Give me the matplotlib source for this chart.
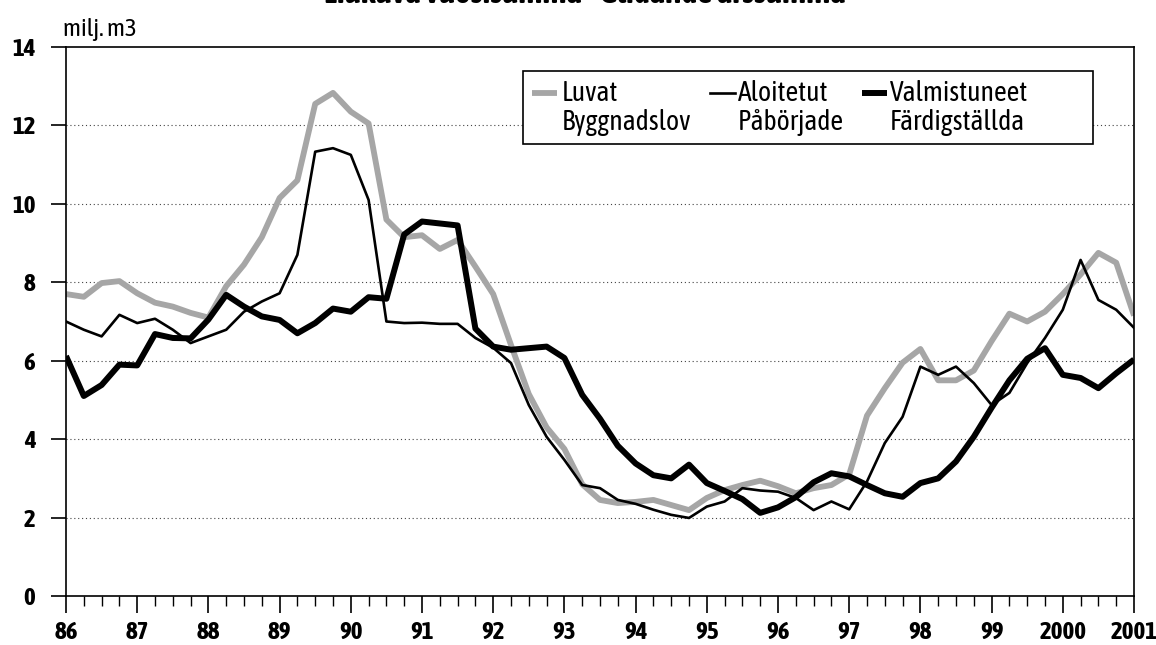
import numpy as np
import matplotlib
matplotlib.use("Agg")
import matplotlib.pyplot as plt
from matplotlib import font_manager as fm
from matplotlib.lines import Line2D
from matplotlib.patches import Rectangle

# a narrow sans face that also has a bold cut, DejaVu Sans Condensed otherwise
family = "DejaVu Sans"
for f in fm.fontManager.ttflist:
    fn = f.fname.split("/")[-1]
    if "CondensedBold" in fn.replace("-", "").replace("_", "") and "DejaVu" not in fn \
            and "Extra" not in fn and "Semi" not in fn and "Mono" not in fn \
            and "Serif" not in fn and "Italic" not in fn:
        family = f.name
        break
plt.rcParams["font.family"] = [family, "DejaVu Sans"]
plt.rcParams["font.stretch"] = "condensed"

# moving annual sums, one value per quarter 1986 - 2001 (milj. m3)
luvat = [7.7, 7.63, 7.98, 8.03, 7.72, 7.48, 7.38, 7.22, 7.1, 7.9,
         8.45, 9.15, 10.15, 10.6, 12.55, 12.83, 12.35, 12.05, 9.6, 9.15,
         9.2, 8.85, 9.08, 8.4, 7.7, 6.4, 5.15, 4.3, 3.75, 2.85,
         2.45, 2.37, 2.4, 2.45, 2.32, 2.19, 2.5, 2.7, 2.83, 2.94,
         2.8, 2.62, 2.75, 2.83, 3.1, 4.6, 5.3, 5.95, 6.3, 5.5,
         5.5, 5.75, 6.5, 7.2, 7.0, 7.25, 7.7, 8.2, 8.75, 8.5,
         7.15]
aloitetut = [7.0, 6.79, 6.62, 7.17, 6.96, 7.07, 6.79, 6.45, 6.62, 6.79,
             7.25, 7.51, 7.72, 8.7, 11.33, 11.42, 11.25, 10.1, 7.0, 6.96,
             6.97, 6.94, 6.94, 6.58, 6.33, 5.94, 4.87, 4.06, 3.47, 2.83,
             2.75, 2.45, 2.35, 2.2, 2.07, 1.99, 2.28, 2.41, 2.75, 2.69,
             2.66, 2.5, 2.19, 2.41, 2.21, 2.92, 3.9, 4.57, 5.85, 5.64,
             5.85, 5.43, 4.87, 5.18, 5.94, 6.58, 7.3, 8.57, 7.55, 7.3,
             6.84]
valmistuneet = [6.12, 5.1, 5.38, 5.9, 5.88, 6.68, 6.58, 6.57, 7.05, 7.68,
                7.38, 7.13, 7.04, 6.7, 6.96, 7.33, 7.25, 7.62, 7.58, 9.22,
                9.55, 9.5, 9.45, 6.82, 6.36, 6.28, 6.32, 6.36, 6.07, 5.13,
                4.52, 3.83, 3.38, 3.08, 3.0, 3.35, 2.88, 2.68, 2.47, 2.12,
                2.26, 2.52, 2.9, 3.13, 3.05, 2.83, 2.62, 2.53, 2.88, 3.0,
                3.43, 4.06, 4.8, 5.5, 6.05, 6.32, 5.64, 5.56, 5.3, 5.68,
                6.03]

years = list(range(1986, 2002))
year_labels = ["86", "87", "88", "89", "90", "91", "92", "93", "94", "95",
               "96", "97", "98", "99", "2000", "2001"]
names_fi = ["Luvat", "Aloitetut", "Valmistuneet"]
names_sv = ["Byggnadslov", "Påbörjade", "Färdigställda"]

quarters = 1986 + np.arange(len(luvat)) / 4

W, H = 1156, 645
L, R, T, B = 66, 1134, 47, 596


def ax_x(px):
    return (px - L) / (R - L)


def ax_y(py):
    return (B - py) / (B - T)


fig = plt.figure(figsize=(W / 100, H / 100), dpi=100)
ax = fig.add_axes([L / W, 1 - B / H, (R - L) / W, (B - T) / H])

styles = [dict(color="#a6a6a6", lw=4.2, solid_capstyle="butt"),
          dict(color="black", lw=1.9),
          dict(color="black", lw=4.3, solid_capstyle="butt")]
for series, st in zip([luvat, aloitetut, valmistuneet], styles):
    ax.plot(quarters, series, solid_joinstyle="round", **st)

ax.set_xlim(1986, 2001)
ax.set_ylim(0, 14)
ax.set_yticks(range(0, 15, 2))
ax.set_xticks(years)
ax.set_xticklabels(year_labels)
ax.set_xticks(quarters, minor=True)

for y in range(2, 14, 2):
    ax.axhline(y, color="#444444", lw=0.8, ls=(0, (1, 2.5)), zorder=0)

for s in ax.spines.values():
    s.set_linewidth(1.2)
ax.tick_params(axis="y", direction="out", length=11, width=1.2, pad=11, labelsize=18)
ax.tick_params(axis="x", which="major", direction="out", length=12, width=1.2, pad=6, labelsize=18)
ax.tick_params(axis="x", which="minor", direction="out", length=7, width=1.0)
for lab in ax.get_xticklabels() + ax.get_yticklabels():
    lab.set_fontweight("bold")

# legend box: finnish name on the first row, swedish name below it
ax.add_patch(Rectangle((ax_x(523), ax_y(144)), ax_x(1093) - ax_x(523), ax_y(71) - ax_y(144),
                       transform=ax.transAxes, facecolor="white", edgecolor="black",
                       lw=1.2, zorder=5))
for key_x, text_x, fi, sv, st in zip([532, 710, 862], [562, 738, 890], names_fi, names_sv, styles):
    ax.add_line(Line2D([ax_x(key_x), ax_x(key_x + 25)], [ax_y(93), ax_y(93)],
                       transform=ax.transAxes, zorder=6, **st))
    ax.text(ax_x(text_x), ax_y(101), fi, transform=ax.transAxes, fontsize=20,
            va="baseline", ha="left", zorder=6)
    ax.text(ax_x(text_x), ax_y(130), sv, transform=ax.transAxes, fontsize=20,
            va="baseline", ha="left", zorder=6)

fig.text(63 / W, 1 - 36 / H, "milj. m3", fontsize=18, ha="left", va="baseline")
fig.text(585 / W, 1 - 3 / H, "Liukuva vuosisumma - Glidande årssumma",
         fontsize=24, fontweight="bold", ha="center", va="baseline")

fig.savefig("out.png", dpi=100)
